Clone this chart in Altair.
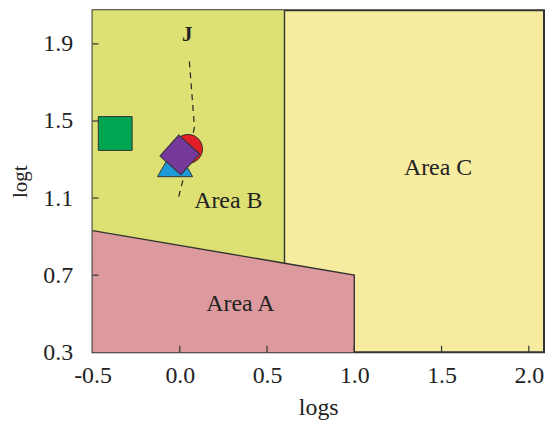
import altair as alt
import pandas as pd

# ---- data ----
x_domain = [-0.5, 2.087]
y_domain = [0.3, 2.075]
x_label_values = [-0.5, 0.0, 0.5, 1.0, 1.5, 2.0]
y_label_values = [0.3, 0.7, 1.1, 1.5, 1.9]
x_inner_ticks = [0.0, 0.5, 1.0, 1.5, 2.0]
y_inner_ticks = [0.7, 1.1, 1.5, 1.9]

# boundary between Area A and the others
bound_x = [-0.5, 0.6, 1.0]
bound_y = [0.931, 0.762, 0.7]

# dashed trend J
j_x = [0.055, 0.084, 0.032, -0.006]
j_y = [1.809, 1.468, 1.245, 1.107]

# samples
square_xy = (-0.37, 1.435)
circle_xy = (0.047, 1.355)
triangle_xy = (-0.027, 1.29)
diamond_xy = (0.0, 1.324)

area_names = ["Area A", "Area B", "Area C"]
area_label_x = [0.347, 0.278, 1.48]
area_label_y = [0.549, 1.085, 1.258]
j_label = ("J", 0.043, 1.945)

COL_A = "#dc9a9e"
COL_B = "#dde072"
COL_C = "#f7eba0"
FONT = "Liberation Serif"

xs = alt.Scale(domain=x_domain, nice=False, zero=False)
ys = alt.Scale(domain=y_domain, nice=False, zero=False)

lab_expr = "(datum.value < 0 ? '-' : '') + format(abs(datum.value), '.1f')"

x_axis = alt.Axis(values=x_label_values, labelExpr=lab_expr, title="logs", labelFlush=False,
                  labelOverlap=False, ticks=False, tickSize=0, domain=False, grid=False,
                  labelPadding=11, titleBaseline="alphabetic", titleY=63, titleFontSize=24)
y_axis = alt.Axis(values=y_label_values, labelExpr=lab_expr, title="logt", labelFlush=False,
                  labelOverlap=False, ticks=False, tickSize=0, domain=False, grid=False,
                  labelPadding=20, titleBaseline="alphabetic", titleX=-66, titleFontSize=21)

df_a = pd.DataFrame({"x": bound_x, "y": bound_y, "y2": [y_domain[0]] * 3})
df_b = pd.DataFrame({"x": bound_x[:2], "y": bound_y[:2], "y2": [y_domain[1]] * 2})

area_a = alt.Chart(df_a).mark_area(color=COL_A, opacity=1, interpolate="linear").encode(
    x=alt.X("x:Q", scale=xs, axis=x_axis), y=alt.Y("y:Q", scale=ys, axis=y_axis), y2="y2:Q")
area_b = alt.Chart(df_b).mark_area(color=COL_B, opacity=1, interpolate="linear").encode(
    x=alt.X("x:Q", scale=xs), y=alt.Y("y:Q", scale=ys), y2="y2:Q")

df_bound = pd.DataFrame({"x": bound_x + [bound_x[-1]], "y": bound_y + [y_domain[0]],
                         "i": list(range(4))})
bound_line = alt.Chart(df_bound).mark_line(color="#333333", strokeWidth=1.4).encode(
    x=alt.X("x:Q", scale=xs), y=alt.Y("y:Q", scale=ys), order="i:Q")

df_bc = pd.DataFrame({"x": [bound_x[1]], "y": [bound_y[1]], "y2": [y_domain[1]]})
bc_line = alt.Chart(df_bc).mark_rule(color="#333333", strokeWidth=1.4).encode(
    x=alt.X("x:Q", scale=xs), y=alt.Y("y:Q", scale=ys), y2="y2:Q")

df_j = pd.DataFrame({"x": j_x, "y": j_y, "i": list(range(len(j_x)))})
j_line = alt.Chart(df_j).mark_line(color="#222222", strokeWidth=1.2, strokeDash=[6, 5]).encode(
    x=alt.X("x:Q", scale=xs), y=alt.Y("y:Q", scale=ys), order="i:Q")


def marker(xy, **kw):
    d = pd.DataFrame({"x": [xy[0]], "y": [xy[1]]})
    return alt.Chart(d).mark_point(filled=True, opacity=1, stroke="#333333",
                                   strokeWidth=1, **kw).encode(
        x=alt.X("x:Q", scale=xs), y=alt.Y("y:Q", scale=ys))


m_square = marker(square_xy, shape="square", size=1156, color="#00a551")
m_circle = marker(circle_xy, shape="circle", size=860, color="#e21f26")
m_triangle = marker(triangle_xy, shape="triangle-up", size=1253, color="#1f9ad7")
m_diamond = marker(diamond_xy, shape="square", size=800, angle=42, color="#74399a")

df_lab = pd.DataFrame({"t": area_names, "x": area_label_x, "y": area_label_y})
labels = alt.Chart(df_lab).mark_text(font=FONT, fontSize=24, color="#222222").encode(
    x=alt.X("x:Q", scale=xs), y=alt.Y("y:Q", scale=ys), text="t:N")

df_jl = pd.DataFrame({"t": [j_label[0]], "x": [j_label[1]], "y": [j_label[2]]})
jlab = alt.Chart(df_jl).mark_text(font=FONT, fontSize=21, fontWeight="bold", color="#222222").encode(
    x=alt.X("x:Q", scale=xs), y=alt.Y("y:Q", scale=ys), text="t:N")

df_xt = pd.DataFrame({"x": x_inner_ticks})
xt = alt.Chart(df_xt).mark_rule(color="#333333", strokeWidth=1.2).encode(
    x=alt.X("x:Q", scale=xs), y=alt.value(344), y2=alt.value(337.5))
df_yt = pd.DataFrame({"y": y_inner_ticks})
yt = alt.Chart(df_yt).mark_rule(color="#333333", strokeWidth=1.2).encode(
    y=alt.Y("y:Q", scale=ys), x=alt.value(0), x2=alt.value(6))

chart = alt.layer(area_a, area_b, bound_line, bc_line, j_line,
                  m_square, m_circle, m_triangle, m_diamond,
                  labels, jlab, xt, yt).properties(
    width=454, height=344,
    padding={"left": 85, "top": 1, "right": 1, "bottom": 76},
    autosize=alt.AutoSizeParams(type="none"),
).configure_view(
    fill=COL_C, stroke="#333333", strokeWidth=2
).configure_axis(
    labelFont=FONT, labelFontSize=24, labelColor="#222222",
    titleFont=FONT, titleColor="#222222", titleFontWeight="normal"
)

chart.save("out.html", embed_options={"renderer": "svg", "actions": False})
